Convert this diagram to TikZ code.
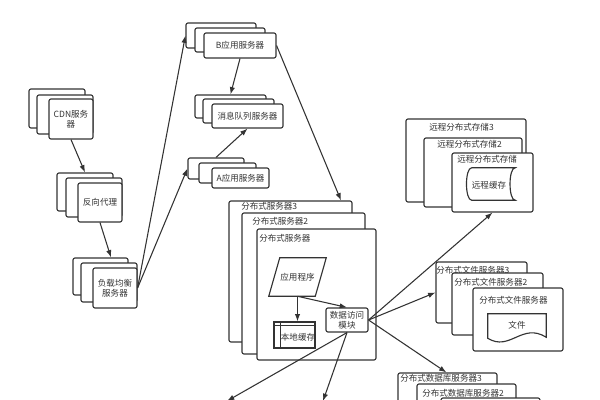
\documentclass[tikz,border=0pt]{standalone}
\usepackage{fontspec}
\newfontfamily\cjk{Noto Sans CJK SC}
\usetikzlibrary{arrows.meta,fit,calc}
\newdimen\pxu \pxu=0.75pt
\definecolor{lc}{HTML}{333333}
\definecolor{tc}{HTML}{333333}
\tikzset{
  box/.style={draw=lc, fill=white, line width=0.85pt, rounded corners=1.5pt, inner sep=0pt},
  frame/.style={inner sep=0pt},
  txt/.style={inner sep=0pt, align=center, text=tc},
  lbl/.style={anchor=west, inner sep=0pt, text=tc},
  arr/.style={draw=lc, line width=0.8pt, -{Latex[length=5.5pt,width=4pt]}},
  thin/.style={draw=lc, line width=0.85pt},
}
\begin{document}
\begin{tikzpicture}[x=0.75pt, y=-0.75pt, font=\cjk\fontsize{6.4}{7.8}\selectfont]
\fill[white] (0,0) rectangle (600,400);
\useasboundingbox (0,0) rectangle (600,400);

% CDN
\node[box, fit={(29,89) (85,128)}] (cdn3) {};
\node[box, fit={(37,95) (93,134)}] (cdn2) {};
\node[box, fit={(49,99) (93,139)}] (cdn1) {};
\node[txt] (cdnt) at (cdn1.center) {CDN服务\\器};
% reverse proxy
\node[box, fit={(57,173) (113,211)}] (rp3) {};
\node[box, fit={(66,178) (122,217)}] (rp2) {};
\node[box, fit={(78,183) (122,222)}] (rp1) {};
\node[txt] (rpt) at (rp1.center) {反向代理};
% load balancer
\node[box, fit={(73,258) (128,295)}] (lb3) {};
\node[box, fit={(81,263) (137,302)}] (lb2) {};
\node[box, fit={(93,268) (137,308)}] (lb1) {};
\node[txt] (lbt) at (lb1.center) {负载均衡\\服务器};
% B app
\node[box, fit={(186,23) (256,48)}] (b3) {};
\node[box, fit={(195,28) (265,52)}] (b2) {};
\node[box, fit={(204,33) (276,58)}] (b1) {};
\node[txt] (bt) at (b1.center) {B应用服务器};
% message queue
\node[box, fit={(195,95) (266,118)}] (mq3) {};
\node[box, fit={(203,99) (274,123)}] (mq2) {};
\node[box, fit={(212,104) (283,128)}] (mq1) {};
\node[txt] (mqt) at (mq1.center) {消息队列服务器};
% A app
\node[box, fit={(188,158) (244,179)}] (a3) {};
\node[box, fit={(199,163) (256,183)}] (a2) {};
\node[box, fit={(212,168) (269,188)}] (a1) {};
\node[txt] (at) at (a1.center) {A应用服务器};

% distributed servers
\node[box, fit={(229,201) (352,342)}] (ds3) {};
\node[lbl] (ds3l) at (241,206) {分布式服务器3};
\node[box, fit={(242,213) (365,354)}] (ds2) {};
\node[lbl] (ds2l) at (252,221) {分布式服务器2};
\node[box, fit={(257,229) (376,360)}] (ds1) {};
\node[lbl] (ds1l) at (259,238) {分布式服务器};

% application program (parallelogram)
\node[frame, fit={(269,258) (326,296)}] (app) {};
\draw[thin] ([xshift=11\pxu]app.north west) -- (app.north east)
  -- ([xshift=-11\pxu]app.south east) -- (app.south west) -- cycle;
\node[txt] (appt) at (app.center) {应用程序};

% local cache
\node[box, rounded corners=0pt, fit={(274,322) (315,348)}] (cache) {};
\draw[thin] ([xshift=7\pxu]cache.north west) -- ([xshift=7\pxu]cache.south west);
\draw[thin] ([yshift=-4\pxu]cache.north west) -- ([yshift=-4\pxu]cache.north east);
\node[txt] (cachet) at (298,337) {本地缓存};

% data access module
\node[box, fit={(326,308) (368,332)}] (dam) {};
\node[txt] (damt) at (dam.center) {数据访问\\模块};

% remote distributed storage
\node[box, fit={(406,119) (526,202)}] (rs3) {};
\node[lbl] (rs3l) at (429,127) {远程分布式存储3};
\node[box, fit={(424,138) (522,207)}] (rs2) {};
\node[lbl] (rs2l) at (437,144) {远程分布式存储2};
\node[box, fit={(452,153) (533,212)}] (rs1) {};
\node[lbl] (rs1l) at (457,159) {远程分布式存储};
\node[frame, fit={(468,168) (515,200)}] (rc) {};
\draw[thin] ([xshift=4\pxu]rc.north west) -- (rc.north east)
  .. controls ([xshift=-7\pxu]rc.north east) and ([xshift=-7\pxu]rc.south east) .. (rc.south east)
  -- ([xshift=4\pxu]rc.south west)
  .. controls ([xshift=-3\pxu]rc.south west) and ([xshift=-3\pxu]rc.north west) .. ([xshift=4\pxu]rc.north west);
\node[txt] (rct) at (489,185) {远程缓存};

% distributed file servers
\node[box, fit={(436,262) (527,323)}] (fs3) {};
\node[lbl] (fs3l) at (436,270) {分布式文件服务器3};
\node[box, fit={(452,273) (543,335)}] (fs2) {};
\node[lbl] (fs2l) at (454,282) {分布式文件服务器2};
\node[box, fit={(473,288) (563,351)}] (fs1) {};
\node[lbl] (fs1l) at (479,300) {分布式文件服务器};
\node[frame, fit={(488,314) (546,338)}] (doc) {};
\draw[thin] (doc.north west) -- (doc.north east) -- ([yshift=1\pxu]doc.south east)
  .. controls (522,322) and (510,352) .. (doc.south west) -- cycle;
\node[txt] (doct) at (517,325) {文件};

% distributed database servers
\node[box, fit={(398,373) (497,430)}] (db3) {};
\node[lbl] (db3l) at (400,378) {分布式数据库服务器3};
\node[box, fit={(417,384) (516,440)}] (db2) {};
\node[lbl] (db2l) at (422,393) {分布式数据库服务器2};
\node[box, fit={(441,398) (540,450)}] (db1) {};

\coordinate (o1) at (227,401);
\coordinate (o2) at (323,401);

% connectors
\draw[arr] (cdn1.south) -- (rp3.north);
\draw[arr] (rp1.south) -- ([xshift=10.5\pxu]lb3.north);
\draw[arr] (lb1.east) -- (b3.west);
\draw[arr] (lb1.east) -- (a3.west);
\draw[arr] (b1.south) -- (mq3.north);
\draw[arr] (a3.north) -- (mq1.south);
\draw[arr] (b1.east) -- ([xshift=50.5\pxu]ds3.north);
\draw[arr] (app.south) -- (app.south |- cache.north);
\draw[arr] (app.south) -- (dam.north);
\draw[arr] (dam.east) -- (rs1.south);
\draw[arr] (dam.east) -- (fs3.west);
\draw[arr] (dam.east) -- ([xshift=49\pxu]db3.north west);
\draw[arr] (dam.south) -- (o1);
\draw[arr] (dam.south) -- (o2);
\end{tikzpicture}
\end{document}
